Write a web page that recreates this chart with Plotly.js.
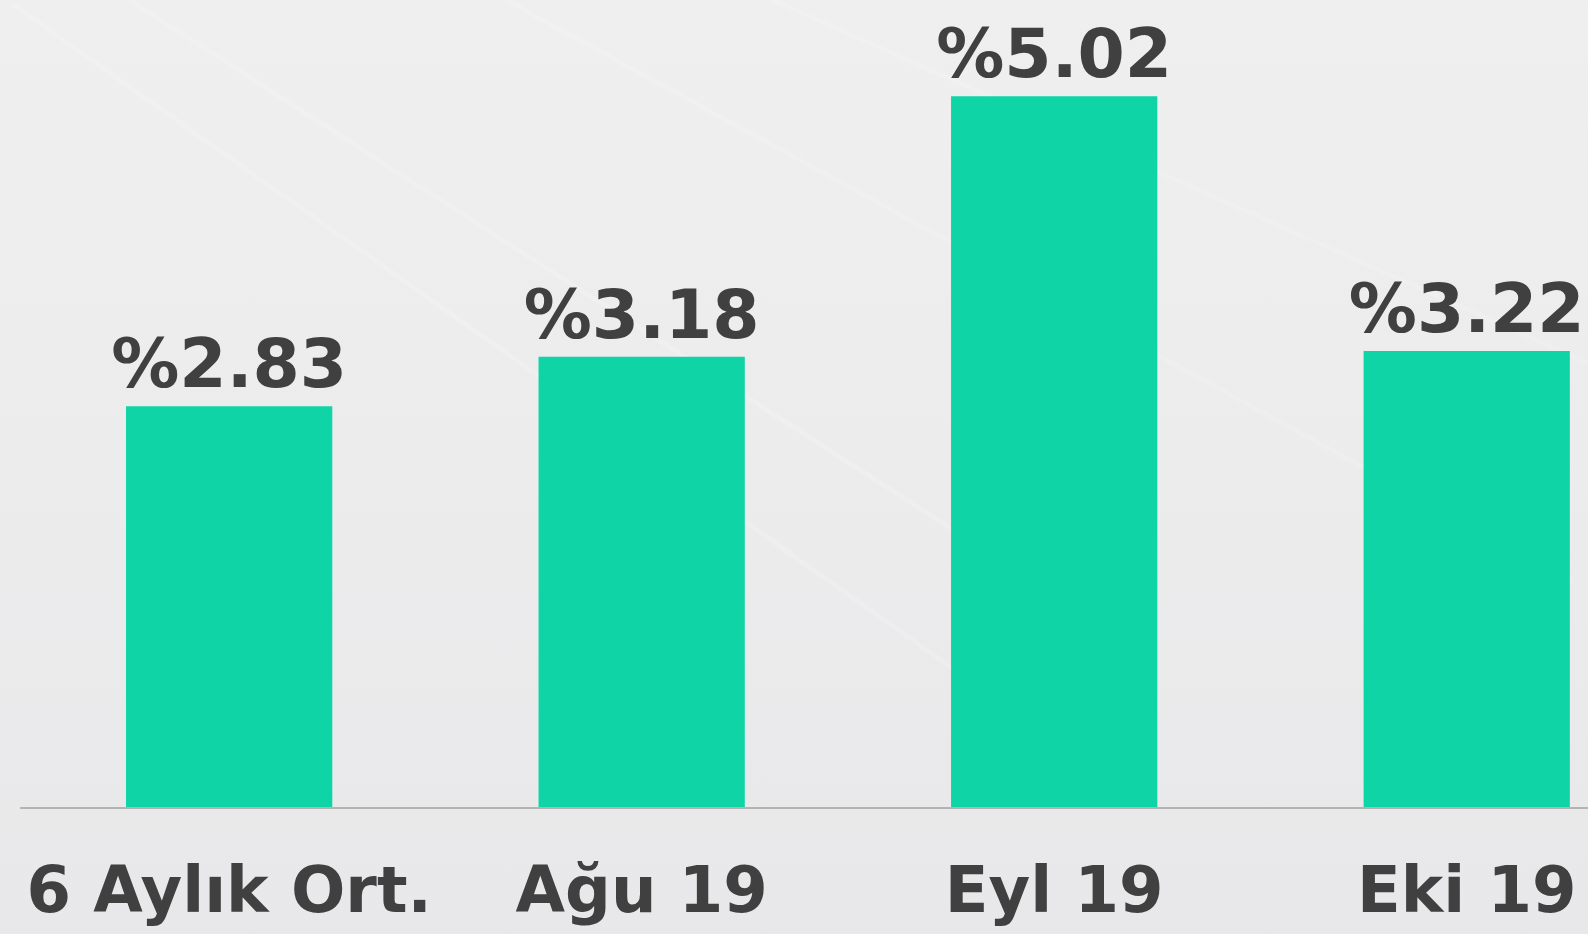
<!DOCTYPE html>
<html>
<head>
<meta charset="utf-8">
<script src="https://cdn.plot.ly/plotly-3.0.1.min.js"></script>
<style>
  html, body { margin: 0; padding: 0; }
  body {
    width: 1588px; height: 934px; overflow: hidden;
    background: linear-gradient(180deg, #f0eff0 0%, #ececed 50%, #e8e8ea 100%);
  }
  #chart { width: 1588px; height: 934px; }
</style>
</head>
<body>
<div id="chart"></div>
<script>
const categories = ["6 Aylık Ort.", "Ağu 19", "Eyl 19", "Eki 19"];
const values = [2.83, 3.18, 5.02, 3.22];
const valueLabels = ["%2.83", "%3.18", "%5.02", "%3.22"];

const trace = {
  type: "bar",
  x: categories,
  y: values,
  text: valueLabels,
  textposition: "outside",
  constraintext: "none",
  cliponaxis: false,
  textfont: { family: "DejaVu Sans", size: 68, color: "#404040", weight: "bold" },
  marker: { color: "#0fd5a6", line: { width: 0 } },
  width: 0.5,
  hoverinfo: "none"
};

const streak = (x0, y0, x1, y1, op) => ({
  type: "line", xref: "paper", yref: "paper", layer: "below",
  x0: x0, y0: y0, x1: x1, y1: y1,
  line: { color: "rgba(255,255,255," + op + ")", width: 5 }
});

const layout = {
  width: 1588, height: 934,
  margin: { l: 20, r: 0, t: 0, b: 127, pad: 0 },
  paper_bgcolor: "rgba(0,0,0,0)",
  plot_bgcolor: "rgba(0,0,0,0)",
  showlegend: false,
  xaxis: {
    type: "category",
    range: [-0.507, 3.294],
    showgrid: false, zeroline: false,
    showline: true, linecolor: "#b4b4b4", linewidth: 1.5,
    ticks: "", ticklabelstandoff: 27,
    tickfont: { family: "DejaVu Sans", size: 64, color: "#404040", weight: "bold" },
    fixedrange: true
  },
  yaxis: {
    range: [0, 5.7],
    visible: false, showgrid: false, zeroline: false,
    fixedrange: true
  },
  shapes: [
    streak(-0.005, 0.995, 0.72, 0.0, 0.16),
    streak(0.07, 1.0, 0.63, 0.3, 0.16),
    streak(0.31, 1.0, 0.99, 0.28, 0.14),
    streak(0.48, 1.0, 1.0, 0.55, 0.12)
  ]
};

Plotly.newPlot("chart", [trace], layout, { displayModeBar: false, staticPlot: true });
</script>
</body>
</html>
